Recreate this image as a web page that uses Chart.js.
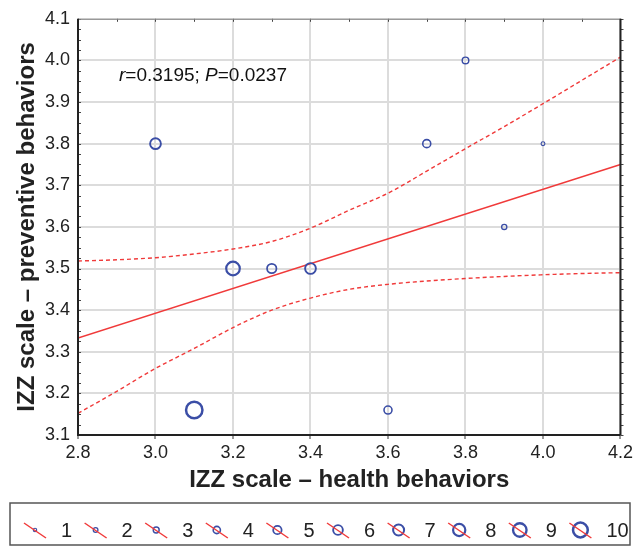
<!DOCTYPE html>
<html>
<head>
<meta charset="utf-8">
<script src="https://cdn.jsdelivr.net/npm/chart.js@4.4.0/dist/chart.umd.min.js"></script>
<style>
  html, body { margin: 0; padding: 0; background: #fff; }
  #wrap { width: 636px; height: 546px; position: relative; }
</style>
</head>
<body>
<div id="wrap"><canvas id="chart"></canvas></div>
<script>
/* ======================= DATA ======================= */
// observed points (health behaviors vs preventive behaviors), case counts set marker size
const xValues = [3.0, 3.1, 3.2, 3.3, 3.4, 3.6, 3.7, 3.8, 3.9, 4.0];
const yValues = [3.8, 3.16, 3.5, 3.5, 3.5, 3.16, 3.8, 4.0, 3.6, 3.8];
const caseCounts = [6, 10, 8, 5, 6, 4, 4, 3, 2, 1];

// regression line
const fitX = [2.8, 4.2];
const fitY = [3.333, 3.750];

// 95% confidence band
const bandX = [2.8, 2.9, 3.0, 3.1, 3.2, 3.3, 3.4, 3.5, 3.6, 3.7, 3.8, 3.9, 4.0, 4.1, 4.2];
const bandUpper = [3.518, 3.521, 3.526, 3.535, 3.547, 3.565, 3.597, 3.640, 3.681, 3.734, 3.788, 3.841, 3.896, 3.952, 4.008];
const bandLower = [3.152, 3.205, 3.260, 3.308, 3.358, 3.400, 3.429, 3.450, 3.462, 3.470, 3.476, 3.481, 3.485, 3.488, 3.490];

const legendCounts = [1, 2, 3, 4, 5, 6, 7, 8, 9, 10];
const statText = { r: '0.3195', p: '0.0237' };

/* ======================= STYLE ======================= */
const FONT = '"Liberation Sans", Arial, sans-serif';
const BLUE = '#3b4ea6';
const RED = '#f03a3a';
const radiusFor = n => 1.2 + 0.7 * n;
const borderFor = n => 1 + 0.15 * n;

const toXY = (xs, ys) => xs.map((x, i) => ({ x, y: ys[i] }));

/* ==================== PLUGINS ======================= */
const framePlugin = {
  id: 'frame',
  beforeDatasetsDraw(chart) {
    const { ctx, chartArea: a } = chart;
    ctx.save();
    // minor ticks along the axes
    ctx.strokeStyle = '#444';
    ctx.lineWidth = 1;
    const xs = chart.scales.x, ys = chart.scales.y;
    for (let v = 2.8; v <= 4.2001; v += 0.1) {
      const px = Math.round(xs.getPixelForValue(v)) + 0.5;
      ctx.beginPath(); ctx.moveTo(px, a.top); ctx.lineTo(px, a.top + 3); ctx.stroke();
    }
    for (let v = 3.1; v <= 4.1001; v += 0.025) {
      const py = Math.round(ys.getPixelForValue(v)) + 0.5;
      ctx.beginPath(); ctx.moveTo(a.left, py); ctx.lineTo(a.left + 3, py); ctx.stroke();
      ctx.beginPath(); ctx.moveTo(a.right, py); ctx.lineTo(a.right + 3, py); ctx.stroke();
    }
    ctx.restore();
  },
  afterDraw(chart) {
    const { ctx, chartArea: a } = chart;
    ctx.save();
    ctx.lineWidth = 1;
    ctx.strokeStyle = '#888';
    ctx.beginPath(); ctx.moveTo(a.left, a.top + 0.5); ctx.lineTo(a.right, a.top + 0.5); ctx.stroke();
    ctx.lineWidth = 2;
    ctx.strokeStyle = '#222';
    ctx.beginPath();
    ctx.moveTo(a.right, a.top); ctx.lineTo(a.right, a.bottom);
    ctx.moveTo(a.left, a.top); ctx.lineTo(a.left, a.bottom); ctx.lineTo(a.right, a.bottom);
    ctx.stroke();

    // r / P annotation
    const tx = a.left + 41, ty = a.top + 62;
    ctx.fillStyle = '#111';
    ctx.textBaseline = 'alphabetic';
    let cx = tx;
    const parts = [
      ['italic', 'r'], ['normal', '=' + statText.r + '; '],
      ['italic', 'P'], ['normal', '=' + statText.p]
    ];
    parts.forEach(([style, s]) => {
      ctx.font = `${style} 19px ${FONT}`;
      ctx.fillText(s, cx, ty);
      cx += ctx.measureText(s).width;
    });

    // legend box
    const box = { left: 10, top: 503, right: 630, bottom: 545 };
    ctx.lineWidth = 1.5;
    ctx.strokeStyle = '#555';
    ctx.strokeRect(box.left, box.top, box.right - box.left, box.bottom - box.top);
    const step = 60.6, firstLabel = 61, cy = 530;
    legendCounts.forEach((n, i) => {
      const lx = firstLabel + i * step;
      const sx = lx - 26;
      ctx.beginPath();
      ctx.arc(sx, cy, radiusFor(n) * 0.9, 0, Math.PI * 2);
      ctx.lineWidth = borderFor(n);
      ctx.strokeStyle = BLUE;
      ctx.stroke();
      ctx.beginPath();
      ctx.moveTo(sx - 11, cy - 7);
      ctx.lineTo(sx + 11, cy + 8);
      ctx.lineWidth = 1.5;
      ctx.strokeStyle = RED;
      ctx.stroke();
      ctx.font = `20px ${FONT}`;
      ctx.fillStyle = '#222';
      ctx.textBaseline = 'middle';
      ctx.fillText(String(n), lx, cy + 1);
    });
    ctx.restore();
  }
};

/* ====================== CHART ======================= */
const chart = new Chart(document.getElementById('chart'), {
  type: 'scatter',
  data: {
    datasets: [
      {
        label: 'cases',
        data: toXY(xValues, yValues),
        pointRadius: caseCounts.map(radiusFor),
        pointBorderWidth: caseCounts.map(borderFor),
        pointBorderColor: BLUE,
        pointBackgroundColor: 'rgba(0,0,0,0)',
        order: 0
      },
      {
        type: 'line',
        label: 'fit',
        data: toXY(fitX, fitY),
        borderColor: RED,
        borderWidth: 1.4,
        pointRadius: 0,
        fill: false,
        order: 1
      },
      {
        type: 'line',
        label: 'upper',
        data: toXY(bandX, bandUpper),
        borderColor: RED,
        borderWidth: 1.4,
        borderDash: [4, 3],
        pointRadius: 0,
        tension: 0.4,
        cubicInterpolationMode: 'monotone',
        fill: false,
        order: 1
      },
      {
        type: 'line',
        label: 'lower',
        data: toXY(bandX, bandLower),
        borderColor: RED,
        borderWidth: 1.4,
        borderDash: [4, 3],
        pointRadius: 0,
        tension: 0.4,
        cubicInterpolationMode: 'monotone',
        fill: false,
        order: 1
      }
    ]
  },
  options: {
    responsive: true,
    maintainAspectRatio: false,
    animation: false,
    layout: { padding: { top: 18, right: 13, bottom: 50, left: 0 } },
    plugins: {
      legend: { display: false },
      tooltip: { enabled: false }
    },
    scales: {
      x: {
        type: 'linear',
        min: 2.8,
        max: 4.2,
        border: { display: false },
        ticks: {
          stepSize: 0.2,
          padding: 3,
          color: '#222',
          font: { family: FONT, size: 18 },
          callback: v => v.toFixed(1)
        },
        grid: { color: '#dcdcdc', lineWidth: 2, tickLength: 4, tickColor: '#333', tickWidth: 1 },
        title: {
          display: true,
          text: 'IZZ scale – health behaviors',
          color: '#222',
          font: { family: FONT, size: 24, weight: 'bold' },
          padding: { top: 0, bottom: 1 }
        },
        afterFit: s => { s.height = 61; }
      },
      y: {
        type: 'linear',
        min: 3.1,
        max: 4.1,
        border: { display: false },
        ticks: {
          stepSize: 0.1,
          padding: 8,
          color: '#222',
          font: { family: FONT, size: 18 },
          callback: v => v.toFixed(1)
        },
        grid: { color: '#dcdcdc', lineWidth: 2, drawTicks: false },
        title: {
          display: true,
          text: 'IZZ scale – preventive behaviors',
          color: '#222',
          font: { family: FONT, size: 24, weight: 'bold' },
          padding: { top: 13, bottom: 0 }
        },
        afterFit: s => { s.width = 78; }
      }
    }
  },
  plugins: [framePlugin]
});
</script>
</body>
</html>
